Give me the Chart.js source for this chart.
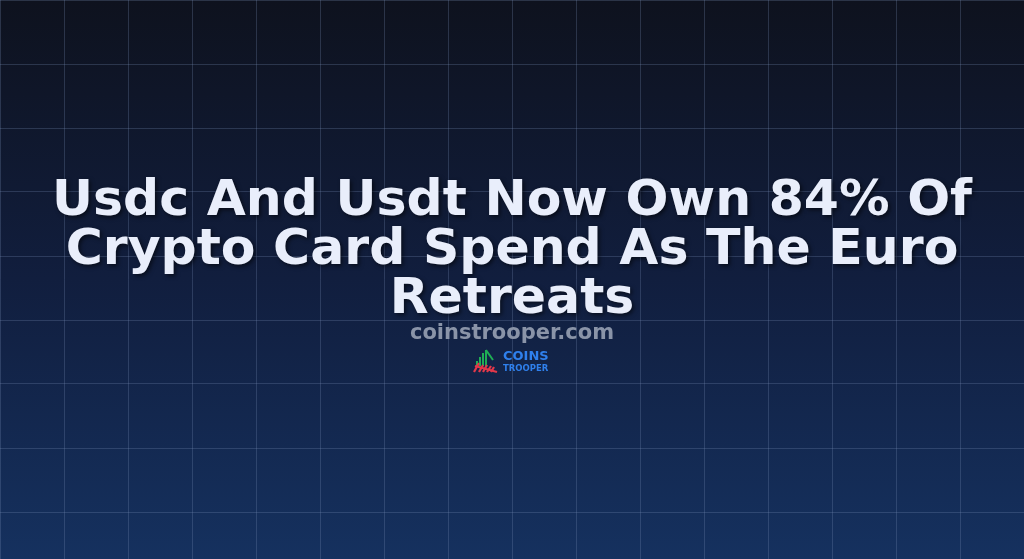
<!DOCTYPE html>
<html>
<head>
<meta charset="utf-8">
<script src="https://cdn.jsdelivr.net/npm/chart.js@4"></script>
<style>
  html, body { margin: 0; padding: 0; background: #0f1320; }
  #wrap { width: 1024px; height: 559px; position: relative; }
</style>
</head>
<body>
<div id="wrap"><canvas id="card"></canvas></div>
<script>
// texts of the card
var titleLines = ['Usdc And Usdt Now Own 84% Of', 'Crypto Card Spend As The Euro', 'Retreats'];
var siteLabel = 'coinstrooper.com';
var logoWords = ['COINS', 'TROOPER'];

// background grid: 16 columns, rows of the same size
var gridCols = [0, 16];
var gridRows = [0, 559 / 64];

// fond dégradé
var backgroundPlugin = {
    id: 'fond',
    beforeDraw: function (chart) {
        var c = chart.ctx;
        var g = c.createLinearGradient(0, 0, 0, chart.height);
        g.addColorStop(0, '#0e121e');
        g.addColorStop(0.5, '#111e3e');
        g.addColorStop(1, '#15315f');
        c.save();
        c.fillStyle = g;
        c.fillRect(0, 0, chart.width, chart.height);
        c.restore();
    }
};

// titre, site et logo
var textPlugin = {
    id: 'textes',
    afterDraw: function (chart) {
        var c = chart.ctx;
        var cx = chart.width / 2;
        c.save();
        c.textAlign = 'center';
        c.textBaseline = 'alphabetic';
        c.shadowColor = 'rgba(0,0,0,0.55)';
        c.shadowBlur = 4;
        c.shadowOffsetX = 2;
        c.shadowOffsetY = 2;
        c.fillStyle = '#e9eefb';
        c.font = 'bold 50.5px "DejaVu Sans"';
        titleLines.forEach(function (line, i) {
            c.fillText(line, cx, 215 + i * 49);
        });
        c.shadowColor = 'transparent';
        c.fillStyle = '#8a94a8';
        c.font = 'bold 21px "DejaVu Sans"';
        c.fillText(siteLabel, cx, 339);

        // petit logo
        c.lineCap = 'butt';
        c.lineWidth = 2;
        c.strokeStyle = '#1fae55';
        [[477, 361], [480, 357], [483, 353], [486, 350]].forEach(function (s) {
            c.beginPath(); c.moveTo(s[0], 366); c.lineTo(s[0], s[1]); c.stroke();
        });
        c.beginPath(); c.moveTo(486, 350); c.lineTo(493, 360); c.stroke();
        c.strokeStyle = '#e3384a';
        c.lineWidth = 2.2;
        [[474, 372, 479, 363], [479, 372, 483, 365], [483, 372, 487, 365], [487, 372, 491, 366], [491, 372, 494, 367]].forEach(function (s) {
            c.beginPath(); c.moveTo(s[0], s[1]); c.lineTo(s[2], s[3]); c.stroke();
        });
        c.beginPath(); c.moveTo(475, 366); c.lineTo(497, 372); c.stroke();
        c.textAlign = 'left';
        c.fillStyle = '#2f80ed';
        c.font = 'bold 13px "DejaVu Sans"';
        c.fillText(logoWords[0], 503, 360);
        c.font = 'bold 8.5px "DejaVu Sans"';
        c.fillText(logoWords[1], 503, 371);
        c.restore();
    }
};

var ctx = document.getElementById('card').getContext('2d');
var lineColor = 'rgba(120,140,180,0.28)';
var myChart = new Chart(ctx, {
    type: 'scatter',
    data: { datasets: [] },
    options: {
        responsive: true,
        maintainAspectRatio: false,
        animation: false,
        events: [],
        layout: { padding: 0 },
        plugins: {
            legend: { display: false },
            tooltip: { enabled: false }
        },
        scales: {
            x: {
                type: 'linear',
                min: gridCols[0],
                max: gridCols[1],
                ticks: { display: false, stepSize: 1 },
                grid: { color: lineColor, lineWidth: 1, drawTicks: false },
                border: { display: false }
            },
            y: {
                type: 'linear',
                reverse: true,
                min: gridRows[0],
                max: gridRows[1],
                ticks: { display: false, stepSize: 1 },
                grid: { color: lineColor, lineWidth: 1, drawTicks: false },
                border: { display: false }
            }
        }
    },
    plugins: [backgroundPlugin, textPlugin]
});
</script>
</body>
</html>
